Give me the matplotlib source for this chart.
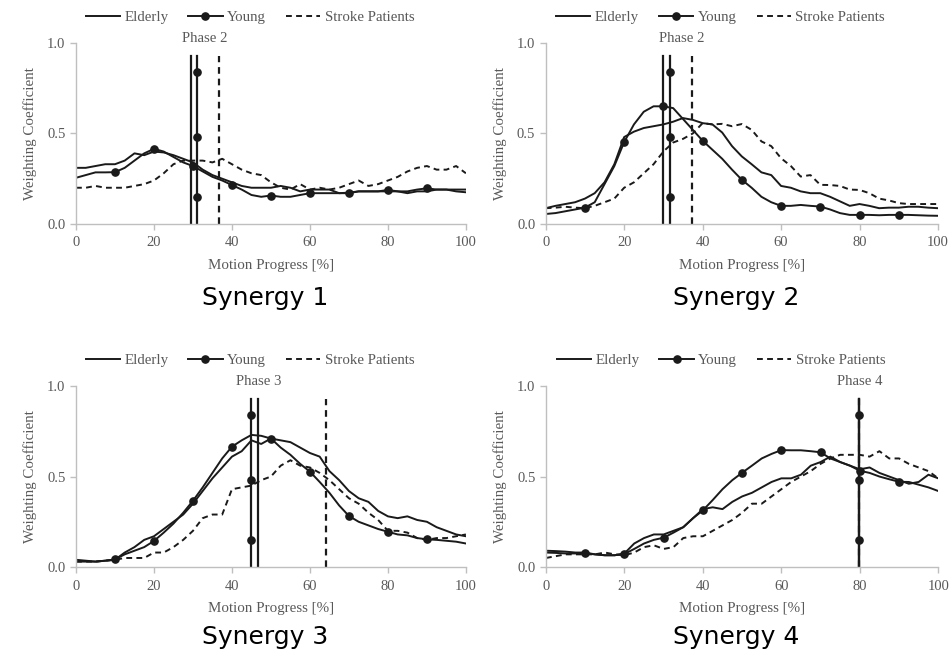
import matplotlib
matplotlib.use("Agg")
import matplotlib.pyplot as plt
from matplotlib.lines import Line2D

# motion progress grid (%), one sample every 2.5 %
progress = [0, 2.5, 5, 7.5, 10, 12.5, 15, 17.5, 20, 22.5, 25, 27.5, 30, 32.5, 35, 37.5, 40,
            42.5, 45, 47.5, 50, 52.5, 55, 57.5, 60, 62.5, 65, 67.5, 70, 72.5, 75, 77.5, 80,
            82.5, 85, 87.5, 90, 92.5, 95, 97.5, 100]

# synergy 1
s1_elderly = [0.31, 0.31, 0.32, 0.33, 0.33, 0.35, 0.39, 0.38, 0.40, 0.395, 0.38, 0.36, 0.34,
              0.30, 0.27, 0.25, 0.23, 0.21, 0.20, 0.20, 0.20, 0.21, 0.20, 0.18, 0.19, 0.19,
              0.19, 0.17, 0.17, 0.18, 0.18, 0.18, 0.18, 0.18, 0.17, 0.18, 0.18, 0.19, 0.19,
              0.19, 0.19]
s1_young = [0.255, 0.27, 0.285, 0.285, 0.286, 0.31, 0.35, 0.39, 0.415, 0.40, 0.37, 0.34, 0.32,
            0.29, 0.26, 0.24, 0.215, 0.19, 0.16, 0.15, 0.157, 0.15, 0.15, 0.16, 0.17, 0.17,
            0.17, 0.17, 0.173, 0.18, 0.18, 0.18, 0.188, 0.18, 0.18, 0.19, 0.197, 0.19, 0.19,
            0.18, 0.175]
s1_stroke = [0.20, 0.20, 0.21, 0.20, 0.20, 0.20, 0.21, 0.22, 0.24, 0.28, 0.33, 0.35, 0.35,
             0.35, 0.34, 0.36, 0.33, 0.30, 0.28, 0.27, 0.23, 0.20, 0.19, 0.22, 0.19, 0.20,
             0.19, 0.20, 0.22, 0.24, 0.21, 0.22, 0.24, 0.26, 0.29, 0.31, 0.32, 0.30, 0.30,
             0.32, 0.28]

# synergy 2
s2_elderly = [0.087, 0.10, 0.11, 0.12, 0.14, 0.17, 0.23, 0.33, 0.48, 0.51, 0.53, 0.54, 0.55,
              0.565, 0.585, 0.575, 0.557, 0.55, 0.505, 0.43, 0.373, 0.33, 0.285, 0.27, 0.21,
              0.20, 0.18, 0.17, 0.17, 0.15, 0.125, 0.10, 0.11, 0.10, 0.087, 0.09, 0.09, 0.095,
              0.095, 0.09, 0.087]
s2_young = [0.055, 0.06, 0.07, 0.08, 0.09, 0.12, 0.22, 0.32, 0.452, 0.55, 0.62, 0.65, 0.65,
            0.64, 0.58, 0.52, 0.46, 0.41, 0.36, 0.30, 0.244, 0.20, 0.15, 0.12, 0.10, 0.10,
            0.105, 0.10, 0.096, 0.08, 0.06, 0.05, 0.05, 0.05, 0.048, 0.05, 0.05, 0.05, 0.048,
            0.046, 0.045]
s2_stroke = [0.087, 0.09, 0.095, 0.09, 0.087, 0.10, 0.12, 0.14, 0.20, 0.23, 0.28, 0.33, 0.40,
             0.45, 0.47, 0.50, 0.557, 0.55, 0.553, 0.54, 0.552, 0.52, 0.456, 0.43, 0.363,
             0.32, 0.262, 0.27, 0.216, 0.215, 0.21, 0.19, 0.188, 0.17, 0.14, 0.13, 0.115,
             0.11, 0.11, 0.11, 0.11]

# synergy 3
s3_elderly = [0.04, 0.035, 0.03, 0.035, 0.04, 0.08, 0.11, 0.15, 0.17, 0.21, 0.25, 0.29, 0.35,
              0.42, 0.49, 0.55, 0.61, 0.64, 0.70, 0.68, 0.71, 0.70, 0.69, 0.66, 0.63, 0.61,
              0.53, 0.48, 0.42, 0.38, 0.36, 0.31, 0.28, 0.27, 0.28, 0.26, 0.25, 0.22, 0.20,
              0.18, 0.17]
s3_young = [0.03, 0.03, 0.03, 0.035, 0.042, 0.07, 0.09, 0.11, 0.144, 0.19, 0.24, 0.30, 0.366,
            0.44, 0.52, 0.60, 0.665, 0.70, 0.73, 0.725, 0.71, 0.66, 0.62, 0.57, 0.527, 0.47,
            0.41, 0.34, 0.282, 0.25, 0.23, 0.21, 0.195, 0.18, 0.175, 0.16, 0.153, 0.15, 0.145,
            0.14, 0.13]
s3_stroke = [0.03, 0.03, 0.03, 0.035, 0.04, 0.05, 0.05, 0.05, 0.08, 0.08, 0.11, 0.15, 0.20,
             0.27, 0.29, 0.29, 0.43, 0.44, 0.45, 0.48, 0.50, 0.56, 0.59, 0.56, 0.55, 0.52,
             0.48, 0.43, 0.38, 0.35, 0.30, 0.26, 0.20, 0.20, 0.19, 0.16, 0.15, 0.16, 0.16,
             0.17, 0.18]

# synergy 4
s4_elderly = [0.09, 0.088, 0.085, 0.08, 0.08, 0.07, 0.065, 0.065, 0.075, 0.13, 0.16, 0.18,
              0.18, 0.20, 0.22, 0.27, 0.32, 0.33, 0.32, 0.36, 0.39, 0.41, 0.44, 0.47, 0.49,
              0.49, 0.51, 0.56, 0.58, 0.61, 0.58, 0.56, 0.54, 0.55, 0.52, 0.50, 0.48, 0.46,
              0.47, 0.51, 0.49]
s4_young = [0.08, 0.078, 0.075, 0.075, 0.075, 0.07, 0.065, 0.065, 0.072, 0.10, 0.13, 0.15,
            0.162, 0.19, 0.22, 0.27, 0.313, 0.37, 0.43, 0.48, 0.521, 0.56, 0.60, 0.625, 0.646,
            0.645, 0.645, 0.64, 0.634, 0.60, 0.58, 0.56, 0.532, 0.52, 0.50, 0.485, 0.471,
            0.47, 0.455, 0.44, 0.42]
s4_stroke = [0.05, 0.06, 0.07, 0.07, 0.07, 0.07, 0.08, 0.07, 0.065, 0.08, 0.11, 0.12, 0.10,
             0.11, 0.16, 0.17, 0.17, 0.20, 0.23, 0.26, 0.30, 0.35, 0.35, 0.39, 0.43, 0.47,
             0.50, 0.53, 0.57, 0.60, 0.62, 0.62, 0.62, 0.61, 0.64, 0.60, 0.60, 0.57, 0.55,
             0.53, 0.49]

# phase boundaries (elderly, young, stroke) in % of motion
phase_elderly = [29.4, 29.8, 46.6, 79.7]
phase_young = [31.0, 31.8, 45.0, 79.7]
phase_stroke = [36.8, 37.3, 64.0, 79.7]
phase_names = ["Phase 2", "Phase 2", "Phase 3", "Phase 4"]
phase_label_x = [33.0, 34.7, 47.0, 79.9]
phase_top = 0.93
phase_marks = [0.15, 0.48, 0.84]

titles = ["Synergy 1", "Synergy 2", "Synergy 3", "Synergy 4"]
elderly = [s1_elderly, s2_elderly, s3_elderly, s4_elderly]
young = [s1_young, s2_young, s3_young, s4_young]
stroke = [s1_stroke, s2_stroke, s3_stroke, s4_stroke]

serif = "Liberation Serif"
gray = "#595959"
ink = "#1a1a1a"
dash = (3.0, 2.2)

fig = plt.figure(figsize=(9.51, 6.51), dpi=100)

# axes boxes in figure fraction [left, bottom, width, height]
boxes = [[0.0799, 0.656, 0.410, 0.278],
         [0.5738, 0.656, 0.4125, 0.278],
         [0.0799, 0.129, 0.410, 0.278],
         [0.5741, 0.129, 0.4125, 0.278]]
title_y = [-0.41, -0.41, -0.385, -0.385]

for i in range(4):
    ax = fig.add_axes(boxes[i])
    ax.plot(progress, elderly[i], color=ink, lw=1.4)
    ax.plot(progress, young[i], color=ink, lw=1.4, marker="o", ms=5.2,
            markevery=slice(4, 37, 4))
    ax.plot(progress, stroke[i], color=ink, lw=1.4, dashes=dash)

    # phase lines
    ax.plot([phase_elderly[i], phase_elderly[i]], [0, phase_top], color=ink, lw=1.6)
    ax.plot([phase_stroke[i], phase_stroke[i]], [0, phase_top], color=ink, lw=1.6, dashes=dash)
    ax.plot([phase_young[i], phase_young[i]], [0, phase_top], color=ink, lw=1.6)
    ax.plot([phase_young[i]] * len(phase_marks), phase_marks, "o", color=ink, ms=5.2)
    ax.text(phase_label_x[i], 1.025, phase_names[i], ha="center", va="center",
            fontsize=10.6, family=serif, color=gray)

    ax.set_xlim(0, 100)
    ax.set_ylim(0, 1)
    ax.set_xticks([0, 20, 40, 60, 80, 100])
    ax.set_yticks([0, 0.5, 1.0])
    ax.set_yticklabels(["0.0", "0.5", "1.0"])
    for s in ["top", "right"]:
        ax.spines[s].set_visible(False)
    for s in ["left", "bottom"]:
        ax.spines[s].set_color("#bfbfbf")
        ax.spines[s].set_linewidth(1.0)
    ax.tick_params(colors="#bfbfbf", labelcolor=gray, length=4, width=1.0, labelsize=10.5)
    for lab in ax.get_xticklabels() + ax.get_yticklabels():
        lab.set_family(serif)
    ax.tick_params(axis="x", pad=5)
    ax.set_xlabel("Motion Progress [%]", family=serif, fontsize=10.8, color=gray, labelpad=7)
    ax.set_ylabel("Weighting Coefficient", family=serif, fontsize=10.8, color=gray, labelpad=7)

    handles = [Line2D([], [], color=ink, lw=1.4),
               Line2D([], [], color=ink, lw=1.4, marker="o", ms=5.2),
               Line2D([], [], color=ink, lw=1.4, dashes=dash)]
    leg = ax.legend(handles, ["Elderly", "Young", "Stroke Patients"], loc="center",
                    bbox_to_anchor=(0.446, 1.14), ncol=3, frameon=False,
                    handlelength=2.3, handletextpad=0.3, columnspacing=1.35,
                    prop={"family": serif, "size": 10.7})
    for t in leg.get_texts():
        t.set_color(gray)

    ax.text(0.485, title_y[i], titles[i], transform=ax.transAxes, ha="center", va="center",
            fontsize=18, family="DejaVu Sans", color="black")

fig.savefig("out.png", dpi=100)
